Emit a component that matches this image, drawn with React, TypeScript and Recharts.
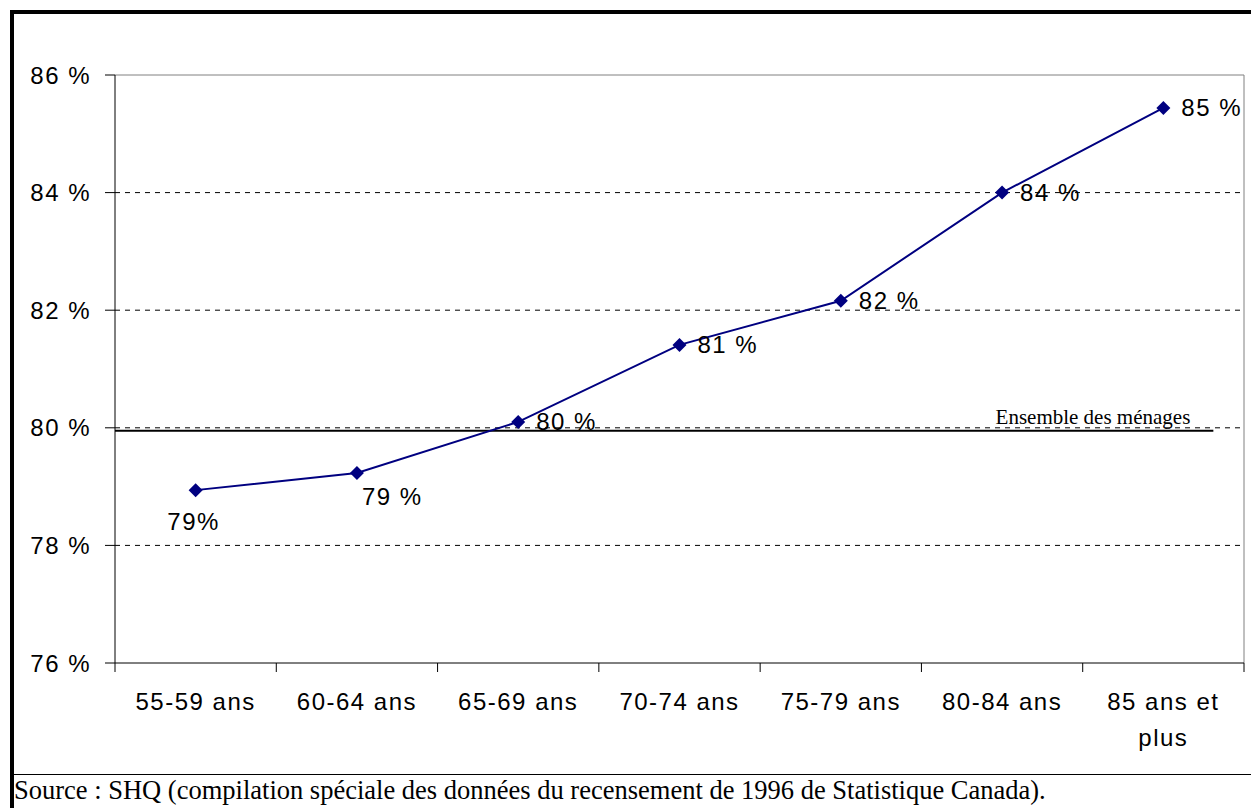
import { LineChart, Line, XAxis, YAxis, ReferenceLine } from 'recharts'

// Age groups and share of households (%)
const CATEGORIES = ['55-59 ans', '60-64 ans', '65-69 ans', '70-74 ans', '75-79 ans', '80-84 ans', '85 ans et plus']
const SHARE = [78.94, 79.23, 80.1, 81.41, 82.16, 84.0, 85.44]
const SHARE_LABELS = ['79%', '79 %', '80 %', '81 %', '82 %', '84 %', '85 %']
const ALL_HOUSEHOLDS = 79.95
const ALL_HOUSEHOLDS_LABEL = 'Ensemble des ménages'
const Y_TICKS = [76, 78, 80, 82, 84, 86]
const GRID_LINES = [78, 80, 82, 84]
const SOURCE = 'Source : SHQ (compilation spéciale des données du recensement de 1996 de Statistique Canada).'

const W = 1251
const CHART_H = 775
const MARGIN = { top: 75, right: 7, left: 15, bottom: 12 }
const Y_AXIS_W = 100
const PLOT_W = W - MARGIN.left - MARGIN.right - Y_AXIS_W
const HALF_BAND = PLOT_W / CATEGORIES.length / 2

const NAVY = '#000080'
const SANS = '"Liberation Sans", Arial, sans-serif'
const SERIF = '"Liberation Serif", "Times New Roman", serif'
const TXT = { fontFamily: SANS, fontSize: 24, letterSpacing: 1.5, fill: '#000' }

const data = CATEGORIES.map((name, i) => ({ name, x: i + 0.5, share: SHARE[i], label: SHARE_LABELS[i] }))

// split long category names in lines of at most 9 chars
function wrap(s: string, max = 9) {
  const lines: string[] = []
  let cur = ''
  for (const w of s.split(' ')) {
    const next = cur ? cur + ' ' + w : w
    if (next.length > max && cur) {
      lines.push(cur)
      cur = w
    } else cur = next
  }
  if (cur) lines.push(cur)
  return lines
}

function CategoryTick({ x, y, payload }: any) {
  const i = Math.round(payload.value - 0.5)
  const lines = wrap(CATEGORIES[i] ?? '')
  return (
    <g>
      <line x1={x - HALF_BAND} x2={x - HALF_BAND} y1={y} y2={y + 9} stroke="#000" />
      {i === CATEGORIES.length - 1 && (
        <line x1={x + HALF_BAND} x2={x + HALF_BAND} y1={y} y2={y + 9} stroke="#000" />
      )}
      <text x={x} y={y + 47} textAnchor="middle" {...TXT}>
        {lines.map((l, k) => (
          <tspan key={k} x={x} dy={k ? 36 : 0}>{l}</tspan>
        ))}
      </text>
    </g>
  )
}

function Diamond({ cx, cy }: any) {
  const r = 7
  return <polygon points={`${cx},${cy - r} ${cx + r},${cy} ${cx},${cy + r} ${cx - r},${cy}`} fill={NAVY} />
}

function PointLabel({ x, y, index }: any) {
  const text = SHARE_LABELS[index]
  // first two labels sit under the line, the rest to the right of the point
  if (index === 0) return <text x={x - 2} y={y + 40} textAnchor="middle" {...TXT}>{text}</text>
  if (index === 1) return <text x={x + 5} y={y + 32} {...TXT}>{text}</text>
  return <text x={x + 18} y={y + 8} {...TXT}>{text}</text>
}

function AllHouseholdsLabel({ viewBox }: any) {
  const { x, y, width } = viewBox
  return (
    <text x={x + width - 23} y={y - 7} textAnchor="end" fontFamily={SERIF} fontSize={21} fill="#000">
      {ALL_HOUSEHOLDS_LABEL}
    </text>
  )
}

export default function App() {
  return (
    <div style={{ position: 'absolute', left: 0, top: 0, width: W, height: 808, background: '#fff', overflow: 'hidden' }}>
      <LineChart width={W} height={CHART_H} data={data} margin={MARGIN}>
        <XAxis
          dataKey="x"
          type="number"
          domain={[0, CATEGORIES.length]}
          ticks={data.map((d) => d.x)}
          interval={0}
          tickLine={false}
          tickSize={0}
          tickMargin={0}
          tick={<CategoryTick />}
          axisLine={{ stroke: '#000' }}
          height={100}
        />
        <YAxis
          domain={[76, 86]}
          ticks={Y_TICKS}
          interval={0}
          tickFormatter={(v) => `${v} %`}
          tick={TXT}
          tickSize={10}
          tickMargin={14}
          tickLine={{ stroke: '#000' }}
          axisLine={{ stroke: '#000' }}
          width={Y_AXIS_W}
        />
        {GRID_LINES.map((v) => (
          <ReferenceLine key={v} y={v} stroke="#000" strokeDasharray="5 5" />
        ))}
        <ReferenceLine y={86} stroke="#808080" />
        <ReferenceLine x={CATEGORIES.length} stroke="#808080" />
        <ReferenceLine
          segment={[{ x: 0, y: ALL_HOUSEHOLDS }, { x: 6.81, y: ALL_HOUSEHOLDS }]}
          stroke="#000"
          strokeWidth={2}
          label={<AllHouseholdsLabel />}
        />
        <Line
          dataKey="share"
          stroke={NAVY}
          strokeWidth={2}
          dot={<Diamond />}
          activeDot={false}
          label={<PointLabel />}
          isAnimationActive={false}
        />
      </LineChart>
      {/* outer frame */}
      <div style={{ position: 'absolute', left: 10, top: 10, width: W - 10, height: 4, background: '#000' }} />
      <div style={{ position: 'absolute', left: 10, top: 10, width: 4, height: 798, background: '#000' }} />
      <div style={{ position: 'absolute', left: 10, top: 774, width: W - 10, height: 1, background: '#000' }} />
      <div style={{ position: 'absolute', left: 14, top: 775, fontFamily: SERIF, fontSize: 26.5, lineHeight: '30px', color: '#000', whiteSpace: 'nowrap' }}>
        {SOURCE}
      </div>
    </div>
  )
}
